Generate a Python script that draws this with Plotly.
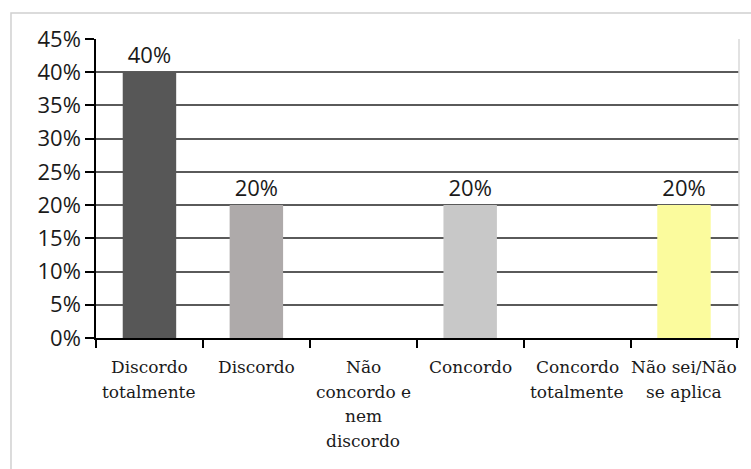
import plotly.graph_objects as go

categories = ["Discordo<br>totalmente", "Discordo", "Não<br>concordo e<br>nem<br>discordo",
              "Concordo", "Concordo<br>totalmente", "Não sei/Não<br>se aplica"]
values = [0.40, 0.20, 0.0, 0.20, 0.0, 0.20]
labels = ["40%", "20%", "", "20%", "", "20%"]
colors = ["#575757", "#aeaaaa", "#bdbdbd", "#c8c8c8", "#bdbdbd", "#fbfb9d"]
ytickvals = [0, 0.05, 0.10, 0.15, 0.20, 0.25, 0.30, 0.35, 0.40, 0.45]

fig = go.Figure(go.Bar(
    x=categories, y=values, marker=dict(color=colors, line=dict(width=0)),
    text=labels, textposition="outside", cliponaxis=False,
    textfont=dict(family="Open Sans", size=22, color="#1a1a1a"),
))

annotations = []
for cat in categories:
    for j, line in enumerate(cat.split("<br>")):
        annotations.append(dict(
            x=cat, xref="x", y=0, yref="paper", yanchor="middle", xanchor="center",
            yshift=-29 - 24.7 * j, text=line, showarrow=False,
            font=dict(family="DejaVu Serif", size=17, color="#1a1a1a"),
        ))

fig.update_layout(
    width=751, height=469,
    margin=dict(l=96, r=12, t=39, b=131),
    paper_bgcolor="white", plot_bgcolor="white",
    bargap=0.5, showlegend=False,
    annotations=annotations,
    shapes=[
        dict(type="rect", xref="paper", yref="paper", x0=-0.1322, x1=1.1, y0=-0.6, y1=1.087,
             line=dict(color="#d0d0d0", width=1.5), layer="below"),
        dict(type="line", xref="paper", yref="paper", x0=1, x1=1, y0=0, y1=1,
             line=dict(color="#d8d8d8", width=1.5)),
    ],
)
fig.update_yaxes(
    range=[0, 0.45], tickvals=ytickvals, tickformat=".0%",
    showgrid=True, gridcolor="#5a5a5a", gridwidth=1.5,
    showline=True, linecolor="#000000", linewidth=1.5,
    ticks="outside", ticklen=9, tickcolor="#000000", tickwidth=1.5,
    tickfont=dict(family="Open Sans", size=22, color="#1a1a1a"),
    zeroline=False,
)
fig.update_xaxes(
    tickson="boundaries", ticks="outside", ticklen=8, tickcolor="#000000", tickwidth=1.5,
    showline=True, linecolor="#000000", linewidth=1.5, showgrid=False,
    showticklabels=False,
)

fig.write_html("out.html")
